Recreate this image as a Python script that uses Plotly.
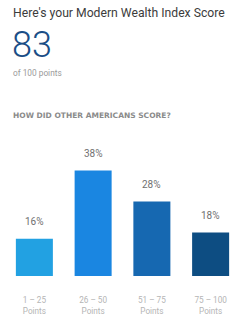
import plotly.graph_objects as go

categories = ["1 – 25<br>Points", "26 – 50<br>Points", "51 – 75<br>Points", "75 – 100<br>Points"]
values = [16, 38, 28, 18]
labels = ["16%", "38%", "28%", "18%"]
colors = ["#22a1e2", "#1a86e1", "#1668b1", "#0d4d82"]

score = "83"
title = "Here's your Modern Wealth Index Score"
subtitle = "of 100 points"
heading = "HOW DID OTHER AMERICANS SCORE?"

W, H = 242, 319
ml, mr, mt, mb = 5, 2, 140, 43
ph = H - mt - mb

def py(pix):
    return (H - mb - pix) / ph

def px(pix):
    return (pix - ml) / (W - ml - mr)

x = list(range(len(categories)))

fig = go.Figure()
fig.add_trace(go.Bar(
    x=x, y=values, base=0,
    marker=dict(color=colors, line=dict(width=0)),
    hoverinfo="skip",
))

for xi, v, t in zip(x, values, labels):
    fig.add_annotation(x=xi, y=v, text=t, showarrow=False, yanchor="bottom",
                       yshift=10, font=dict(family="Roboto", size=10, color="#707070"))

fig.add_annotation(xref="paper", yref="paper", x=px(11), y=py(13), xanchor="left", yanchor="middle",
                   text=title, showarrow=False, font=dict(family="Roboto", size=12.2, color="#3c3c3c"))
fig.add_annotation(xref="paper", yref="paper", x=px(10), y=py(45), xanchor="left", yanchor="middle",
                   text=score, showarrow=False, font=dict(family="Roboto", size=36, weight=300, color="#1b4e86"))
fig.add_annotation(xref="paper", yref="paper", x=px(11), y=py(73), xanchor="left", yanchor="middle",
                   text=subtitle, showarrow=False, font=dict(family="Roboto", size=8.3, color="#9a9a9a"))
fig.add_annotation(xref="paper", yref="paper", x=px(11), y=py(115), xanchor="left", yanchor="middle",
                   text="<b>" + heading + "</b>", showarrow=False,
                   font=dict(family="DejaVu Sans", size=7.5, color="#8a8a8a"))

fig.update_layout(
    width=W, height=H,
    margin=dict(l=ml, r=mr, t=mt, b=mb),
    paper_bgcolor="white", plot_bgcolor="white",
    showlegend=False,
    bargap=0.37,
    xaxis=dict(tickvals=x, ticktext=categories, range=[-0.5, 3.5], showgrid=False, zeroline=False,
               showline=False, ticks="", ticklabelstandoff=18,
               tickfont=dict(family="Roboto", size=8.2, color="#b5b5b5"), fixedrange=True),
    yaxis=dict(range=[4, 4 + ph / 3.1], visible=False, fixedrange=True),
)

fig.write_html("out.html", config={"displayModeBar": False})
